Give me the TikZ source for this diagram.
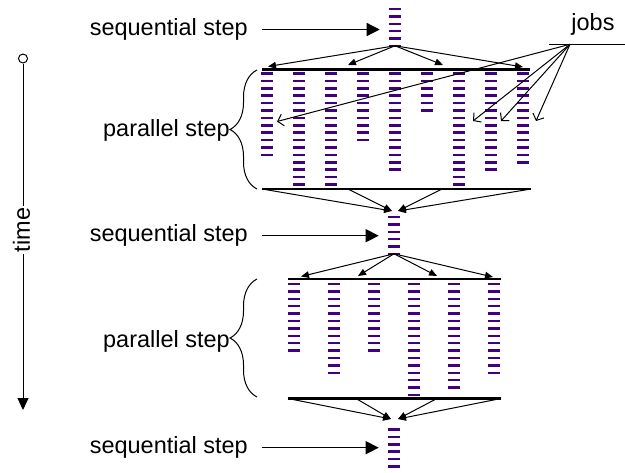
\documentclass[tikz,border=0pt]{standalone}
\usepackage{fontspec}
\setmainfont{Liberation Sans}
\usetikzlibrary{arrows.meta,positioning,decorations.pathreplacing}
\definecolor{jobpurple}{RGB}{64,0,128}

% a column of jobs: x, centre of first dash, number of dashes
\newcommand{\jobcol}[3]{%
  \foreach \k in {1,...,#3} {
    \pgfmathsetmacro{\yy}{#2+7.4*(\k-1)-1.25}
    \fill[jobpurple] (#1-6,\yy) rectangle ++(12,2.5);
  }}

\begin{document}
\begin{tikzpicture}[x=0.75pt, y=-0.75pt,
    lbl/.style={font=\fontsize{17.6}{21}\selectfont, inner sep=0pt},
    seqbox/.style={minimum width=9pt, minimum height=27pt, inner sep=0pt},
    bar/.style={line width=1.9pt},
    bigarrow/.style={line width=1pt, -{Triangle[length=9.75pt,width=9.75pt]}},
    fan/.style={line width=0.75pt, -{Triangle[length=6pt,width=5pt]}},
    jobarrow/.style={line width=0.75pt, -{Straight Barb[length=4pt,width=9pt]}},
    bracket/.style={decorate, decoration={brace, amplitude=20.25pt}, line width=0.75pt}]
    \useasboundingbox (0,0) rectangle (625,472);

    % time axis
    \node[draw, circle, fill=white, minimum size=6.75pt, inner sep=0pt, line width=0.75pt] (origin) at (23,58.5) {};
    \node[lbl, rotate=90, inner sep=1pt] (time) at (21.5,230) {time};
    \coordinate (tend) at (23,410);
    \draw[line width=0.75pt] (origin) -- (origin |- time.east);
    \draw[line width=0.75pt, -{Triangle[length=9pt,width=8.25pt]}] (origin |- time.west) -- (tend);

    % sequential steps
    \node[seqbox] (seq1) at (395,27.5) {};
    \node[seqbox] (seq2) at (394,235.5) {};
    \node[seqbox] (seq3) at (394,448) {};
    \jobcol{395}{9}{6}
    \jobcol{394}{217}{6}
    \jobcol{394}{429.5}{6}
    \node[lbl, anchor=east] (seqlab1) at (248,29.5) {sequential step};
    \node[lbl, anchor=east] (seqlab2) at (248,235.7) {sequential step};
    \node[lbl, anchor=east] (seqlab3) at (248,447.7) {sequential step};
    \foreach \i in {1,2,3}
        \draw[bigarrow, shorten <=10.5pt, shorten >=6.75pt] (seqlab\i.east) -- (seqlab\i.east -| seq\i.west);

    % first parallel step
    \foreach \x/\n in {267/12,299/16,331/16,363/10,395/14,427/6,459/16,491/14,523/13} {\jobcol{\x}{73.5}{\n}}
    \draw[bar] (262,69.7) -- (530,69.7);
    \draw[bar] (262,189) -- (531,189);
    \coordinate (fa1) at (268,66.5);
    \coordinate (fa2) at (348,65);
    \coordinate (fa3) at (443,65);
    \coordinate (fa4) at (523,67);
    \foreach \t in {fa1,fa2,fa3,fa4}
        \draw[fan] (seq1.south) -- (\t);
    \coordinate (ga1) at (262,189);
    \coordinate (ga2) at (348,189);
    \coordinate (ga3) at (442,189);
    \coordinate (ga4) at (531,189);
    \coordinate (tipl1) at (392,211);
    \coordinate (tipr1) at (398,211);
    \draw[fan] (ga1) -- (tipl1);
    \draw[fan] (ga2) -- (tipl1);
    \draw[fan] (ga3) -- (tipr1);
    \draw[fan] (ga4) -- (tipr1);
    \draw[bracket] (257,189) -- (257,70);
    \node[lbl, anchor=east] (parlab1) at (230,130) {parallel step};

    % second parallel step
    \foreach \x/\n in {294/10,334/13,374/10,414/16,454/15,494/13} {\jobcol{\x}{284}{\n}}
    \draw[bar] (288,279) -- (501,279);
    \draw[bar] (288,398.5) -- (501,398.5);
    \coordinate (fb1) at (301,276.5);
    \coordinate (fb2) at (358,276);
    \coordinate (fb3) at (437,276);
    \coordinate (fb4) at (493,277);
    \foreach \t in {fb1,fb2,fb3,fb4}
        \draw[fan] (seq2.south) -- (\t);
    \coordinate (gb1) at (288,398.5);
    \coordinate (gb2) at (356,398.5);
    \coordinate (gb3) at (437,398.5);
    \coordinate (gb4) at (501,398.5);
    \coordinate (tipl2) at (391,419);
    \coordinate (tipr2) at (398,419);
    \draw[fan] (gb1) -- (tipl2);
    \draw[fan] (gb2) -- (tipl2);
    \draw[fan] (gb3) -- (tipr2);
    \draw[fan] (gb4) -- (tipr2);
    \draw[bracket] (257,397) -- (257,279);
    \node[lbl, anchor=east] (parlab2) at (230,341) {parallel step};

    % jobs
    \node[lbl] (jobs) at (593,24) {jobs};
    \coordinate (jobsroot) at (570,44.3);
    \draw[line width=0.75pt] (549,44.3) -- (625,44.3);
    \coordinate (j1) at (277,121.5);
    \coordinate (j2) at (473,121);
    \coordinate (j3) at (501,121);
    \coordinate (j4) at (536,121);
    \foreach \t in {j1,j2,j3,j4}
        \draw[jobarrow] (jobsroot) -- (\t);
\end{tikzpicture}
\end{document}
